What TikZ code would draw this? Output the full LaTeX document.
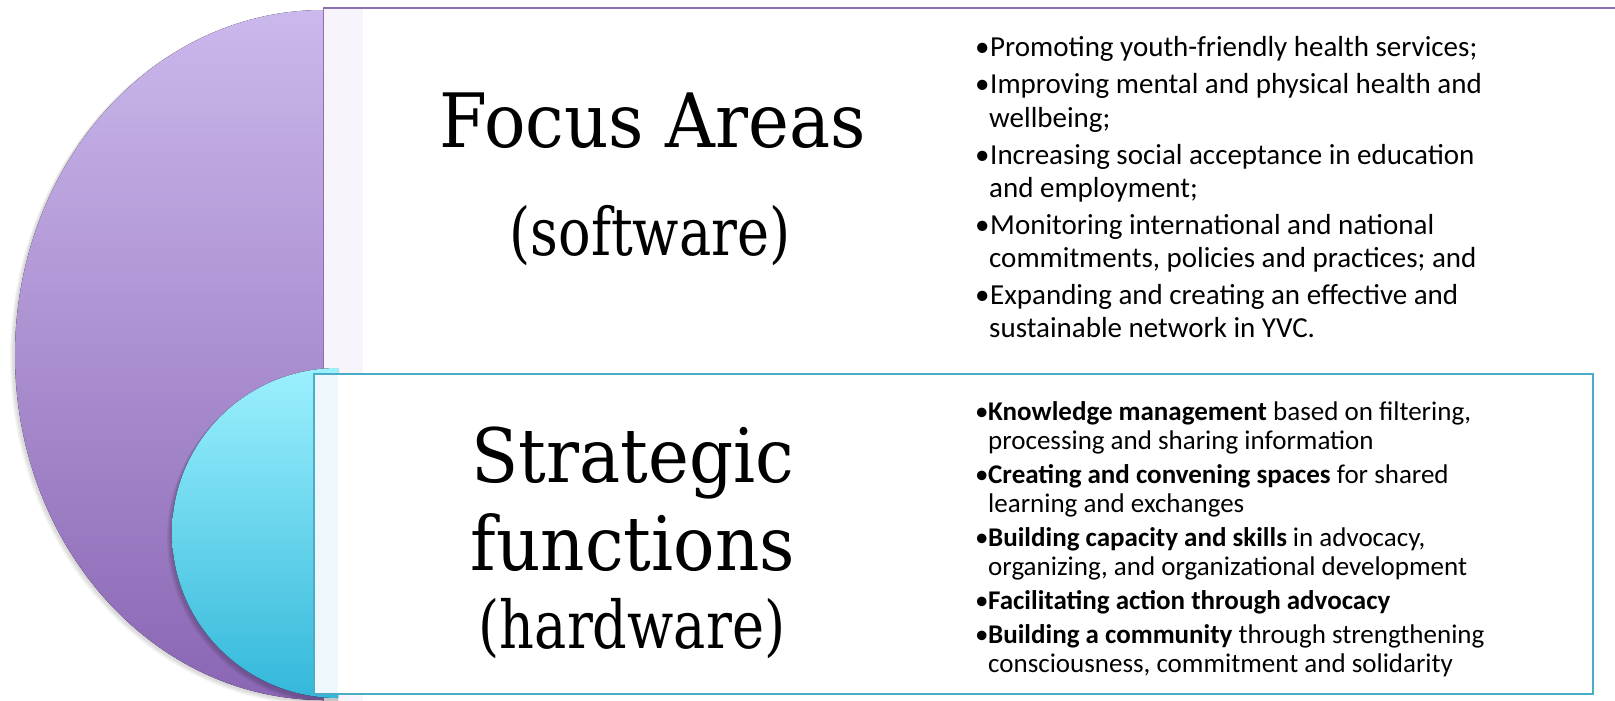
\documentclass[tikz,border=0pt]{standalone}
\usepackage{fontspec}
\newfontfamily\headfont[FakeStretch=0.92]{DejaVu Serif}
\newfontfamily\subfont[FakeStretch=0.82]{DejaVu Serif}
\newfontfamily\listfont{Carlito}

\definecolor{lavtop}{HTML}{CBB8EC}
\definecolor{lavbot}{HTML}{8A66B4}
\definecolor{cyantop}{HTML}{9CF0FE}
\definecolor{cyanbot}{HTML}{33B8DA}
\definecolor{focusline}{HTML}{8C70B4}
\definecolor{stratline}{HTML}{4BACC6}
\definecolor{focusstrip}{HTML}{F7F4FB}
\definecolor{stratstrip}{HTML}{EEF8FC}

\tikzset{
  heading/.style={anchor=base, inner sep=0pt, font=\headfont\fontsize{75}{80}\selectfont},
  subheading/.style={anchor=base, inner sep=0pt, font=\subfont\fontsize{66}{70}\selectfont},
  toptext/.style={anchor=base west, inner sep=0pt, font=\listfont\fontsize{29}{31}\selectfont},
  lowtext/.style={anchor=base west, inner sep=0pt, font=\listfont\fontsize{27}{29}\selectfont},
}

\begin{document}
\begin{tikzpicture}[x=1pt,y=-1pt]
\useasboundingbox (0,0) rectangle (1615,701);
\fill[white] (0,0) rectangle (1615,701);

% large half-disc (focus areas)
\begin{scope}
  \clip (0,0) rectangle (323,701);
  \foreach \i in {1,...,4}
    \fill[black,opacity=0.035] (322,356+0.5*\i) ellipse [x radius=308+\i, y radius=345+0.6*\i];
  \fill[top color=lavtop,bottom color=lavbot] (323,355) ellipse [x radius=308, y radius=345];
\end{scope}

% focus areas panel
\fill[white] (323,8) rectangle (1630,715);
\fill[focusstrip] (323,8) rectangle (363,715);
\draw[focusline,line width=1.5pt] (1630,8) -- (323.5,8) -- (323.5,715);

% small half-disc (strategic functions)
\begin{scope}
  \clip (0,0) rectangle (338,701);
  \foreach \i in {1,...,4}
    \fill[black,opacity=0.05] (337,535+0.6*\i) ellipse [x radius=166+\i, y radius=165+0.6*\i];
  \fill[top color=cyantop,bottom color=cyanbot] (338,533) ellipse [x radius=166, y radius=165];
\end{scope}

% strategic functions panel
\fill[white] (314,374) rectangle (1593,694);
\fill[stratstrip] (315,375) rectangle (338,693);
\draw[stratline,line width=2pt] (314,374) rectangle (1593,694);

% headings
\node[heading] (focus) at (653,147) {Focus Areas};
\node[subheading] (soft) at (650,255) {(software)};
\node[heading] (strat) at (633,482) {Strategic};
\node[heading] (func) at (633,570) {functions};
\node[subheading] (hard) at (632,648) {(hardware)};

% focus area list
\foreach \n/\y in {a/57,b/94,c/164,d/234,e/304}
  \node[toptext] (fb\n) at (975,\y) {•};
\node[toptext] (fa1) at (990,57) {Promoting youth-friendly health services;};
\node[toptext] (fa2) at (990,94) {Improving mental and physical health and};
\node[toptext] (fa3) at (989,127) {wellbeing;};
\node[toptext] (fa4) at (990,164) {Increasing social acceptance in education};
\node[toptext] (fa5) at (989,197) {and employment;};
\node[toptext] (fa6) at (990,234) {Monitoring international and national};
\node[toptext] (fa7) at (989,267) {commitments, policies and practices; and};
\node[toptext] (fa8) at (990,304) {Expanding and creating an effective and};
\node[toptext] (fa9) at (989,337) {sustainable network in YVC.};

% strategic function list
\foreach \n/\y in {a/420,b/483,c/546,d/609,e/643}
  \node[lowtext] (sb\n) at (975,\y) {•};
\node[lowtext] (sf1) at (988,420) {\textbf{Knowledge management} based on filtering,};
\node[lowtext] (sf2) at (988,449) {processing and sharing information};
\node[lowtext] (sf3) at (988,483) {\textbf{Creating and convening spaces} for shared};
\node[lowtext] (sf4) at (988,512) {learning and exchanges};
\node[lowtext] (sf5) at (988,546) {\textbf{Building capacity and skills} in advocacy,};
\node[lowtext] (sf6) at (988,575) {organizing, and organizational development};
\node[lowtext] (sf7) at (988,609) {\textbf{Facilitating action through advocacy}};
\node[lowtext] (sf8) at (988,643) {\textbf{Building a community} through strengthening};
\node[lowtext] (sf9) at (988,672) {consciousness, commitment and solidarity};
\end{tikzpicture}
\end{document}
